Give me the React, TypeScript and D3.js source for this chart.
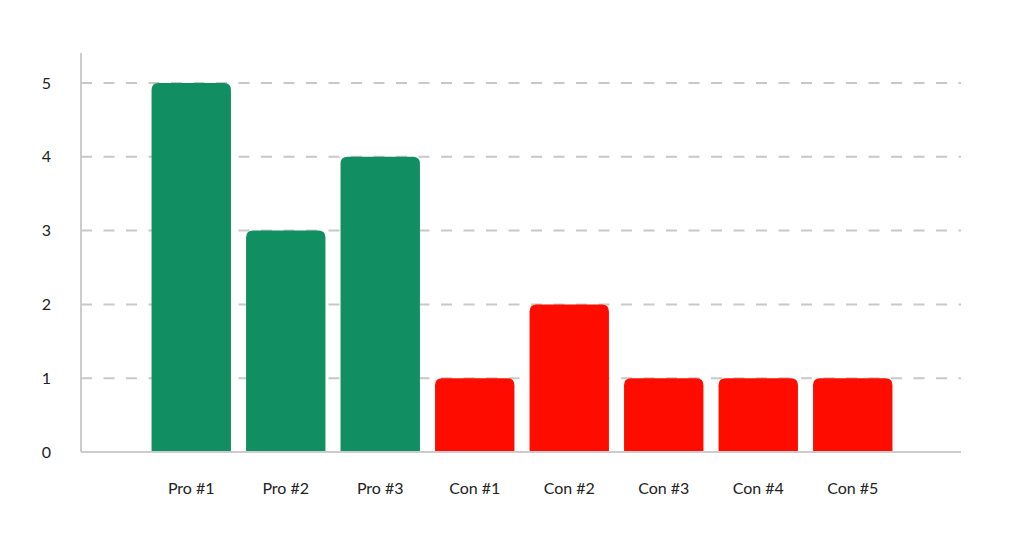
import React from "react";
import * as d3 from "d3";

const categories = ["Pro #1", "Pro #2", "Pro #3", "Con #1", "Con #2", "Con #3", "Con #4", "Con #5"];
const values = [5, 3, 4, 1, 2, 1, 1, 1];
const groups = ["pro", "pro", "pro", "con", "con", "con", "con", "con"];
const yTicks = [0, 1, 2, 3, 4, 5];

const W = 1015;
const H = 543;
const left = 81;
const right = 961;
const bottom = 452;
const top = 53;

const colors: Record<string, string> = { pro: "#128f62", con: "#ff0c00" };

function topRounded(x: number, y: number, w: number, h: number, r: number) {
  const rr = Math.min(r, h, w / 2);
  return `M${x},${y + h}V${y + rr}Q${x},${y} ${x + rr},${y}H${x + w - rr}Q${x + w},${y} ${x + w},${y + rr}V${y + h}Z`;
}

export default function App() {
  const x = d3.scaleBand<string>().domain(categories).range([left + 1, right + 1]).paddingInner(0.16).paddingOuter(0.736);
  const unit = (bottom - 83) / 5;
  const y = d3.scaleLinear().domain([0, (bottom - top) / unit]).range([bottom, top]);
  const font = "Lato, 'Noto Sans', sans-serif";
  return (
    <svg width={W} height={H} style={{ position: "absolute", left: 0, top: 0 }} fontFamily={font}>
      <rect width={W} height={H} fill="#fff" />
      {yTicks.filter((t) => t > 0).map((t) => (
        <line key={t} x1={left} x2={right} y1={y(t)} y2={y(t)} stroke="#c8c8c8" strokeWidth={2} strokeDasharray="11,11.5" />
      ))}
      {categories.map((c, i) => {
        const bx = x(c)!;
        const by = y(values[i]);
        return <path key={c} d={topRounded(bx, by, x.bandwidth(), bottom - by, 7)} fill={colors[groups[i]]} />;
      })}
      <line x1={left} x2={left} y1={top} y2={bottom} stroke="#cccccc" strokeWidth={2} />
      <line x1={left} x2={right} y1={bottom} y2={bottom} stroke="#cccccc" strokeWidth={2} />
      {yTicks.map((t) => (
        <text key={t} x={51} y={y(t)} dy="0.35em" textAnchor="end" fontSize={16} fill="#222">
          {t}
        </text>
      ))}
      {categories.map((c) => (
        <text key={c} x={x(c)! + x.bandwidth() / 2} y={488} dy="0.35em" textAnchor="middle" fontSize={16} fill="#222">
          {c}
        </text>
      ))}
    </svg>
  );
}
